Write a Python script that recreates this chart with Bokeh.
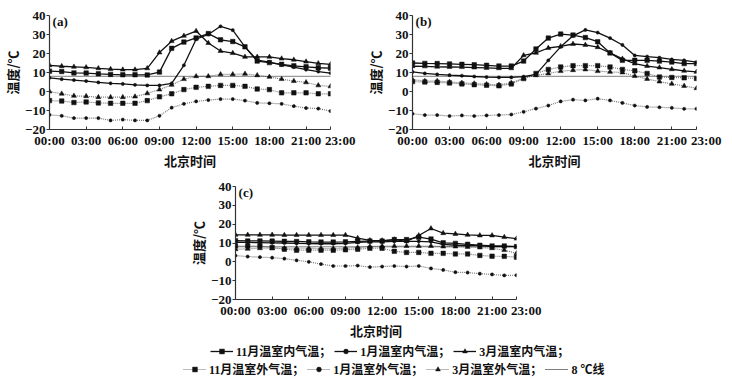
from bokeh.plotting import figure
from bokeh.layouts import column, row
from bokeh.models import Range1d, FixedTicker, Label, Legend, LegendItem, Span, Spacer
from bokeh.embed import file_html
from bokeh.resources import INLINE

# ---------------- data ----------------
hours = list(range(24))
x_tick_values = [0, 3, 6, 9, 12, 15, 18, 21, 23]
x_tick_labels = ["00:00", "03:00", "06:00", "09:00", "12:00", "15:00", "18:00", "21:00", "23:00"]
y_tick_values = [-20, -10, 0, 10, 20, 30, 40]
y_tick_labels = ["\u221220", "\u221210", "0", "10", "20", "30", "40"]
threshold = 8

# panel (a)
a_nov_in = [10.7, 10.5, 9.8, 9.7, 9.3, 9.0, 8.8, 8.8, 8.7, 10.2, 22.7, 26.0, 28.2, 30.5, 27.2, 26.3, 23.5, 16.0, 15.2, 14.3, 13.5, 13.0, 12.5, 12.3]
a_jan_in = [7.2, 6.5, 6.0, 5.5, 4.8, 4.3, 4.0, 3.5, 3.2, 3.2, 4.3, 13.8, 27.5, 30.0, 34.3, 32.3, 23.5, 16.5, 15.5, 14.0, 12.8, 11.5, 10.5, 9.7]
a_mar_in = [13.8, 13.3, 13.0, 12.7, 12.2, 11.8, 11.5, 11.5, 12.2, 20.5, 26.5, 29.3, 31.8, 25.5, 21.3, 20.2, 18.2, 18.2, 18.2, 17.3, 16.7, 15.7, 14.8, 14.3]
a_nov_out = [-4.8, -5.0, -5.8, -5.5, -6.0, -6.2, -6.2, -6.2, -4.8, -2.8, -1.2, 1.0, 2.2, 2.7, 3.2, 3.2, 2.7, 1.3, 1.0, -0.7, -0.7, -0.7, -1.2, -1.2]
a_jan_out = [-12.3, -12.8, -14.0, -14.0, -14.0, -15.2, -14.8, -15.2, -15.2, -12.8, -8.5, -6.5, -5.2, -4.5, -4.0, -4.0, -4.8, -6.0, -6.2, -6.5, -7.7, -8.7, -9.0, -10.3]
a_mar_out = [0.0, -1.2, -2.3, -2.5, -3.0, -3.0, -3.0, -2.7, -1.0, 1.0, 3.5, 6.5, 8.0, 8.0, 9.0, 9.0, 9.3, 8.5, 7.7, 6.5, 5.5, 4.8, 3.2, 2.7]

# panel (b)
b_nov_in = [15.0, 14.8, 14.7, 14.5, 14.3, 14.1, 13.8, 13.4, 13.4, 16.0, 22.4, 28.1, 30.2, 29.7, 28.4, 26.2, 20.3, 16.4, 16.4, 16.4, 16.0, 15.5, 14.7, 14.7]
b_jan_in = [10.3, 9.5, 9.0, 8.6, 8.3, 7.9, 7.6, 7.4, 7.4, 7.8, 9.0, 16.4, 23.5, 29.3, 32.4, 31.0, 28.1, 24.5, 19.0, 18.4, 17.8, 16.9, 16.4, 15.5]
b_mar_in = [13.3, 13.2, 13.0, 12.9, 12.8, 12.6, 12.4, 12.2, 12.2, 19.0, 20.3, 22.9, 23.8, 25.0, 24.5, 23.3, 20.3, 17.2, 14.7, 13.4, 12.6, 11.7, 10.9, 10.3]
b_nov_out = [5.2, 5.0, 4.8, 4.5, 4.0, 3.6, 3.3, 3.0, 4.0, 6.8, 9.5, 11.6, 12.9, 13.6, 13.6, 13.6, 12.9, 11.6, 10.9, 9.5, 7.6, 7.4, 7.2, 6.9]
b_jan_out = [-11.7, -12.4, -12.4, -12.9, -12.6, -12.9, -12.6, -12.4, -12.1, -10.7, -9.0, -7.4, -5.2, -4.3, -4.7, -3.8, -4.7, -6.0, -7.4, -8.1, -8.3, -8.6, -9.1, -9.1]
b_mar_out = [6.2, 5.5, 5.5, 5.0, 4.5, 4.2, 3.8, 3.5, 4.5, 7.0, 8.5, 9.5, 10.7, 11.2, 11.6, 10.7, 10.3, 10.0, 8.1, 6.6, 5.2, 4.0, 2.9, 1.7]

# panel (c)
c_nov_in = [11.2, 11.1, 11.1, 11.0, 10.9, 10.8, 10.6, 10.5, 10.5, 10.6, 10.9, 11.0, 11.0, 11.8, 11.8, 13.1, 12.1, 10.1, 9.8, 9.3, 8.8, 8.4, 8.4, 8.1]
c_jan_in = [10.3, 10.3, 10.2, 10.1, 10.0, 9.8, 9.7, 9.6, 9.6, 9.8, 10.3, 10.6, 10.6, 10.9, 10.9, 10.9, 10.6, 9.3, 8.8, 8.6, 8.6, 8.1, 8.1, 8.1]
c_mar_in = [14.3, 14.3, 14.3, 14.3, 14.2, 14.2, 14.2, 14.2, 14.2, 14.2, 12.6, 11.4, 11.3, 11.8, 10.9, 14.0, 17.7, 15.2, 14.8, 14.3, 14.0, 14.0, 13.1, 12.3]
c_nov_out = [8.4, 8.4, 8.4, 7.6, 6.7, 6.2, 6.2, 6.2, 6.2, 6.4, 6.7, 7.2, 7.2, 5.6, 5.0, 5.0, 4.5, 4.5, 4.2, 4.2, 3.4, 3.0, 2.9, 2.5]
c_jan_out = [3.3, 2.8, 2.5, 2.2, 1.7, 0.8, 0.0, -1.2, -2.2, -2.2, -2.0, -2.8, -2.5, -2.2, -2.5, -2.2, -3.5, -4.3, -5.5, -5.7, -6.3, -6.7, -7.2, -7.1]
c_mar_out = [6.7, 6.9, 7.2, 7.2, 7.2, 7.2, 7.2, 7.0, 7.0, 7.2, 7.6, 8.1, 8.4, 8.4, 8.4, 8.4, 8.4, 8.1, 8.1, 7.9, 7.6, 7.2, 6.2, 4.5]

legend_labels = ["11月温室内气温；", "1月温室内气温；", "3月温室内气温；",
                 "11月温室外气温；", "1月温室外气温；", "3月温室外气温；", "8 ℃线"]

# ---------------- styles ----------------
LATIN = "Liberation Serif, Noto Sans CJK SC"
CJK = "Noto Sans CJK SC"
SOLID = dict(line_color="#111111", line_width=1.3, line_dash="solid")
DOT = dict(line_color="#777777", line_width=1.2, line_dash="1 1")
MK = {"nov": ("square", 4.5), "jan": ("circle", 3.2), "mar": ("triangle", 5.0)}


def add_series(p, xs, ys, kind, inner):
    ls = SOLID if inner else DOT
    lr = p.line(xs, ys, **ls)
    m, s = MK[kind]
    sr = p.scatter(xs, ys, marker=m, size=s, fill_color="#111111", line_color="#111111", line_width=0.5)
    return lr, sr


def make_panel(tag, series, width, height, bl, br, bt, bb):
    p = figure(width=width, height=height, x_range=Range1d(0, 23), y_range=Range1d(-20, 40),
               output_backend="svg", toolbar_location=None,
               min_border_left=bl, min_border_right=br, min_border_top=bt, min_border_bottom=bb)
    p.outline_line_color = None
    p.grid.visible = False
    p.add_layout(Span(location=threshold, dimension="width", line_color="#000000",
                      line_width=1, line_dash="1 1"))
    nov_in, jan_in, mar_in, nov_out, jan_out, mar_out = series
    add_series(p, hours, nov_out, "nov", False)
    add_series(p, hours, jan_out, "jan", False)
    add_series(p, hours, mar_out, "mar", False)
    add_series(p, hours, nov_in, "nov", True)
    add_series(p, hours, jan_in, "jan", True)
    add_series(p, hours, mar_in, "mar", True)

    # last tick label nudged right (leading en spaces) as in the original
    overrides = dict(zip(x_tick_values, x_tick_labels))
    overrides[x_tick_values[-1]] = "\u2002\u2002\u2002" + x_tick_labels[-1]
    p.xaxis.ticker = FixedTicker(ticks=x_tick_values, minor_ticks=[])
    p.xaxis.major_label_overrides = overrides
    p.yaxis.ticker = FixedTicker(ticks=y_tick_values, minor_ticks=[])
    p.yaxis.major_label_overrides = dict(zip(y_tick_values, y_tick_labels))
    for ax in (p.xaxis[0], p.yaxis[0]):
        ax.axis_line_color = "#333333"
        ax.axis_line_width = 1.2
        ax.major_tick_line_color = "#333333"
        ax.major_label_text_font = LATIN
        ax.major_label_text_font_style = "bold"
        ax.major_label_text_font_size = "13px"
        ax.major_label_text_color = "#111111"
        ax.axis_label_text_font = CJK
        ax.axis_label_text_font_style = "bold"
        ax.axis_label_text_font_size = "13px"
        ax.axis_label_text_color = "#111111"
        ax.axis_label_standoff = 0
    p.xaxis.major_tick_in = 3
    p.xaxis.major_tick_out = 0
    p.xaxis.major_label_standoff = 3
    p.yaxis.major_tick_in = 0
    p.yaxis.major_tick_out = 3
    p.yaxis.major_label_standoff = 1
    p.xaxis.axis_label = "北京时间"
    p.yaxis.axis_label = "温度/℃"
    p.add_layout(Label(x=0.25, y=40, text=tag, text_font=LATIN, text_font_style="bold",
                       text_font_size="13px", text_baseline="top", y_offset=2, text_color="#111111"))
    return p


fa = make_panel("(a)", [a_nov_in, a_jan_in, a_mar_in, a_nov_out, a_jan_out, a_mar_out],
                360, 172, 49, 30, 13, 40)
fb = make_panel("(b)", [b_nov_in, b_jan_in, b_mar_in, b_nov_out, b_jan_out, b_mar_out],
                372, 172, 52, 36, 15, 41)
fc = make_panel("(c)", [c_nov_in, c_jan_in, c_mar_in, c_nov_out, c_jan_out, c_mar_out],
                364, 170, 47, 34, 14, 37)

# ---------------- legend ----------------
fl = figure(width=732, height=40, x_range=Range1d(0, 1), y_range=Range1d(0, 1),
            x_axis_location=None, y_axis_location=None, min_border=0,
            output_backend="svg", toolbar_location=None)
fl.outline_line_color = None
fl.grid.visible = False
off = [-5.0]
items = []
for kind, inner in [("nov", True), ("jan", True), ("mar", True), ("nov", False), ("jan", False), ("mar", False)]:
    items.append(list(add_series(fl, off, off, kind, inner)))
thr_r = fl.line(off, off, line_color="#000000", line_width=1, line_dash="1 1")
items.append([thr_r])

legend_rows = [(legend_labels[0:3], items[0:3], (210, 22)), (legend_labels[3:7], items[3:7], (183, 4))]
for labels, rends, loc in legend_rows:
    lg = Legend(items=[LegendItem(label=l, renderers=r) for l, r in zip(labels, rends)],
                orientation="horizontal", location=loc, padding=0, margin=0, spacing=3,
                glyph_width=23, glyph_height=12, label_height=12, label_standoff=3,
                label_text_font=LATIN, label_text_font_style="bold", label_text_font_size="12px",
                label_text_color="#111111", border_line_color=None, background_fill_alpha=0)
    fl.add_layout(lg)

layout = column(row(fa, fb), row(Spacer(width=186, height=170), fc), fl)
open("out.html", "w").write(file_html(layout, INLINE))
